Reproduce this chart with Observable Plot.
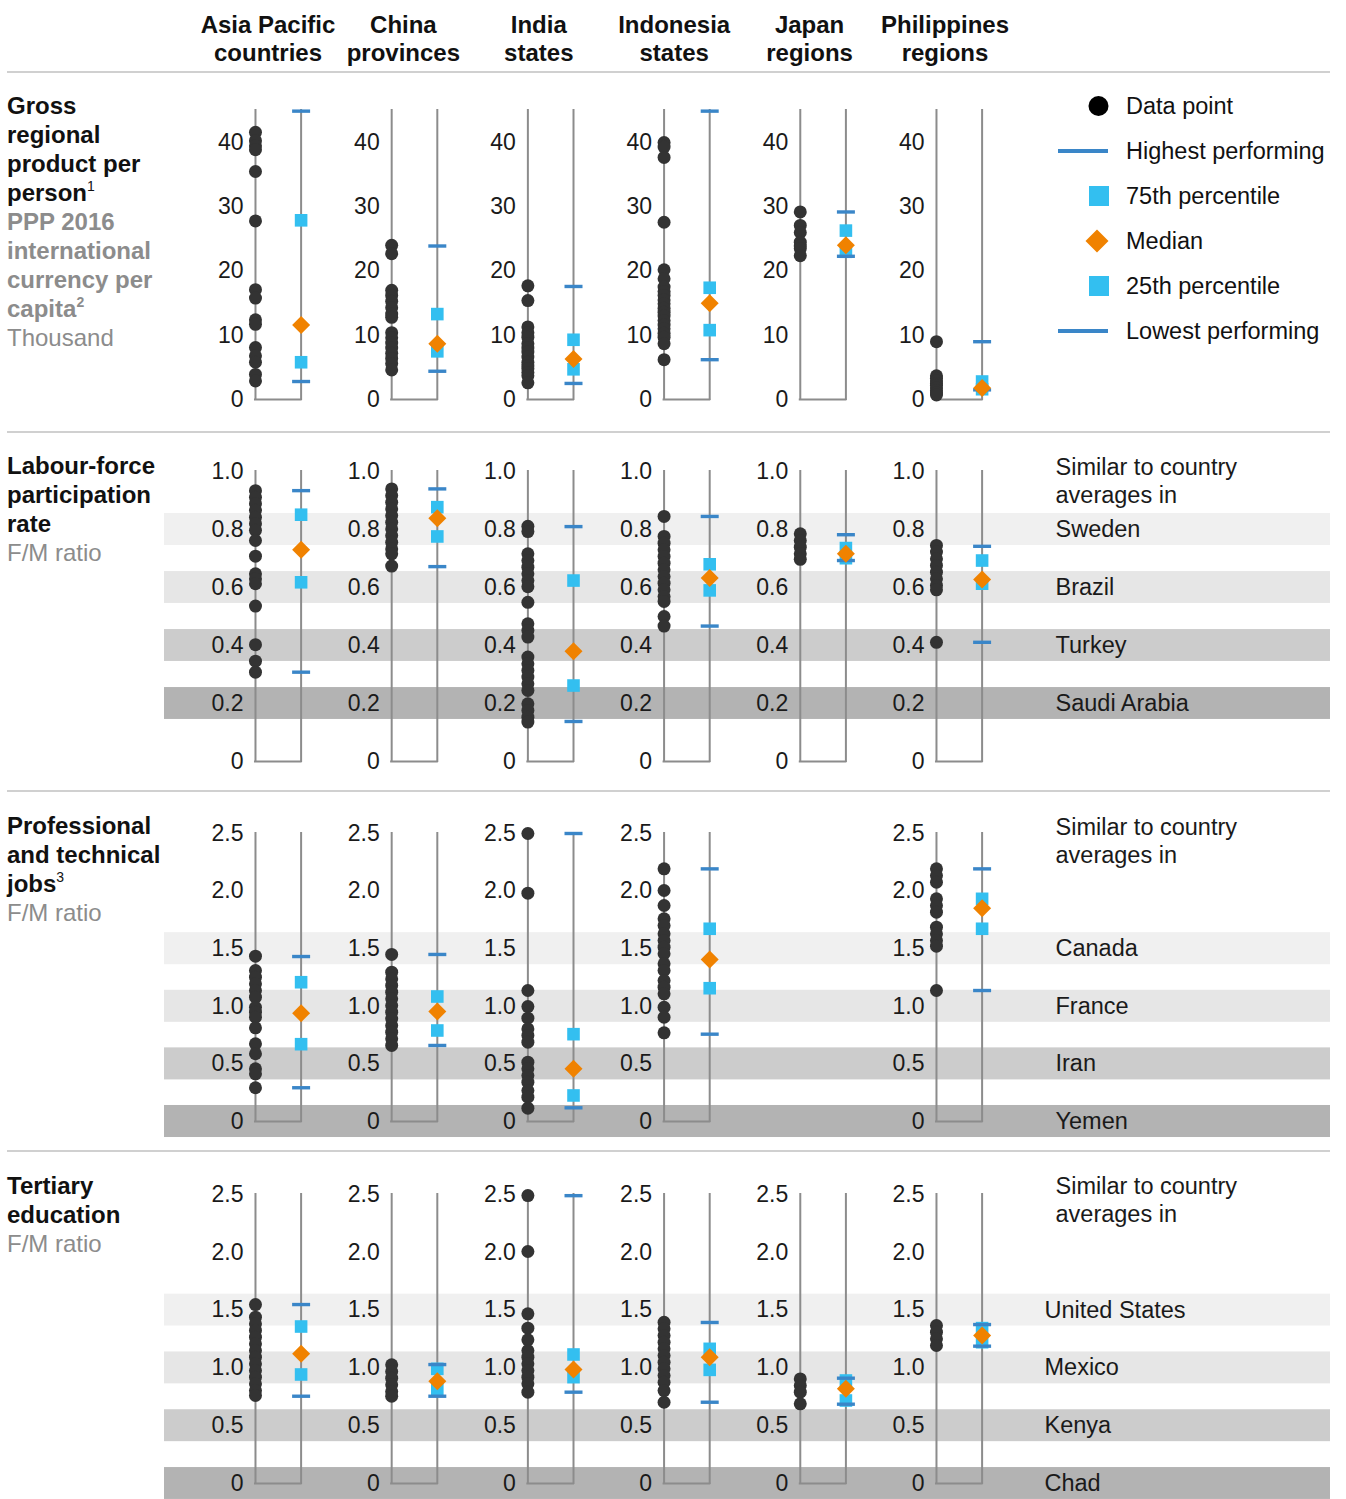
<!DOCTYPE html>
<html><head><meta charset="utf-8">
<script src="https://cdn.jsdelivr.net/npm/d3@7"></script>
<script src="https://cdn.jsdelivr.net/npm/@observablehq/plot@0.6"></script>
<style>
body{margin:0;background:#fff;font-family:"Liberation Sans",Arial,Helvetica,sans-serif;}
#page{position:relative;width:1346px;height:1499px;overflow:hidden;background:#fff;}
.hdr{position:absolute;top:11px;width:180px;margin-left:-90px;text-align:center;font-weight:bold;font-size:24px;line-height:28px;color:#111;white-space:pre;}
.sep{position:absolute;left:7px;width:1323px;height:2px;background:#d0d0d0;}
.rowlab{position:absolute;left:7px;font-size:24px;line-height:29px;color:#111;white-space:nowrap;}
.rowlab b{font-weight:bold;}
.gray{color:#8c8c8c;}
sup{font-size:14px;line-height:0;vertical-align:10px;}
.plot{position:absolute;left:164px;}
.leg{position:absolute;left:1040px;height:30px;width:300px;font-size:23.5px;color:#111;}
.leg span.t{position:absolute;left:86px;top:0;line-height:30px;}
.leg svg{position:absolute;left:0;top:0;}
</style>
</head><body>
<div id="page"></div>
<script>
// ---------- categories ----------
const regions = ["Asia Pacific\ncountries", "China\nprovinces", "India\nstates", "Indonesia\nstates", "Japan\nregions", "Philippines\nregions"];

// ---------- Row 1: Gross regional product per person (thousand) ----------
const gdpPoints = [
  [41.6, 40.3, 39.5, 38.9, 35.5, 27.8, 17.1, 15.8, 12.4, 11.7, 8.1, 6.8, 5.8, 3.9, 2.9],
  [24.0, 22.7, 17.0, 16.2, 15.3, 14.3, 13.3, 12.8, 10.4, 9.6, 8.8, 8.0, 7.2, 6.4, 5.6, 4.6],
  [17.7, 15.4, 11.3, 10.4, 9.7, 8.7, 8.0, 7.4, 6.6, 5.8, 5.2, 4.8, 4.2, 3.7, 2.6],
  [40.0, 39.3, 37.7, 27.6, 20.2, 18.8, 17.5, 16.8, 16.2, 15.5, 14.9, 14.2, 13.6, 13.0, 12.3, 11.6, 11.0, 10.3, 9.7, 8.7, 6.2],
  [29.2, 27.1, 26.0, 24.5, 23.9, 23.5, 22.4],
  [9.0, 3.7, 3.3, 2.9, 2.5, 2.2, 1.8, 1.4, 1.0, 0.7]
];
const gdpHigh   = [44.9, 23.9, 17.6, 44.9, 29.2, 9.0];
const gdpP75    = [27.9, 13.3, 9.3, 17.4, 26.3, 2.8];
const gdpMedian = [11.6, 8.7, 6.3, 15.0, 24.0, 1.8];
const gdpP25    = [5.8, 7.5, 4.7, 10.8, 23.0, 1.6];
const gdpLow    = [2.8, 4.4, 2.5, 6.2, 22.3, 1.5];
const gdpTicks  = [0, 10, 20, 30, 40];

// ---------- Row 2: Labour-force participation rate (F/M) ----------
const lfpPoints = [
  [0.934, 0.911, 0.889, 0.866, 0.842, 0.82, 0.797, 0.762, 0.708, 0.647, 0.63, 0.613, 0.536, 0.403, 0.346, 0.308],
  [0.94, 0.917, 0.894, 0.871, 0.848, 0.825, 0.802, 0.779, 0.756, 0.733, 0.716, 0.674],
  [0.811, 0.793, 0.716, 0.693, 0.67, 0.647, 0.624, 0.603, 0.549, 0.475, 0.452, 0.429, 0.36, 0.337, 0.314, 0.291, 0.268, 0.245, 0.199, 0.176, 0.153, 0.136],
  [0.845, 0.776, 0.753, 0.73, 0.707, 0.684, 0.661, 0.638, 0.615, 0.592, 0.569, 0.552, 0.5, 0.467],
  [0.785, 0.762, 0.739, 0.716, 0.697],
  [0.745, 0.722, 0.699, 0.676, 0.653, 0.63, 0.607, 0.592, 0.411]
];
const lfpHigh   = [0.934, 0.94, 0.81, 0.845, 0.782, 0.742];
const lfpP75    = [0.851, 0.877, 0.624, 0.68, 0.736, 0.693];
const lfpMedian = [0.73, 0.839, 0.38, 0.633, 0.716, 0.628];
const lfpP25    = [0.618, 0.776, 0.262, 0.59, 0.701, 0.613];
const lfpLow    = [0.308, 0.672, 0.138, 0.467, 0.693, 0.411];
const lfpTicks  = [0, 0.2, 0.4, 0.6, 0.8, 1.0];
const lfpCountries = ["Sweden", "Brazil", "Turkey", "Saudi Arabia"];
const lfpCountryValues = [0.8, 0.6, 0.4, 0.2];

// ---------- Row 3: Professional and technical jobs (F/M) ----------
const jobPoints = [
  [1.435, 1.311, 1.253, 1.195, 1.137, 1.079, 0.992, 0.949, 0.905, 0.813, 0.674, 0.588, 0.457, 0.414, 0.293],
  [1.45, 1.296, 1.238, 1.181, 1.123, 1.065, 1.007, 0.949, 0.891, 0.833, 0.775, 0.718, 0.66],
  [2.5, 1.982, 1.137, 0.998, 0.897, 0.804, 0.747, 0.689, 0.515, 0.457, 0.399, 0.341, 0.269, 0.211, 0.116],
  [2.193, 2.005, 1.875, 1.759, 1.701, 1.629, 1.571, 1.513, 1.456, 1.369, 1.311, 1.224, 1.166, 1.108, 0.992, 0.905, 0.77],
  [],
  [2.193, 2.135, 2.077, 1.933, 1.875, 1.817, 1.687, 1.629, 1.571, 1.522, 1.137]
];
const jobHigh   = [1.432, 1.45, 2.5, 2.193, null, 2.193];
const jobP75    = [1.209, 1.085, 0.758, 1.673, null, 1.933];
const jobMedian = [0.94, 0.955, 0.457, 1.406, null, 1.852];
const jobP25    = [0.671, 0.79, 0.226, 1.157, null, 1.673];
const jobLow    = [0.293, 0.66, 0.119, 0.758, null, 1.137];
const ratioTicks = [0, 0.5, 1.0, 1.5, 2.0, 2.5];
const jobCountries = ["Canada", "France", "Iran", "Yemen"];
const jobCountryValues = [1.5, 1.0, 0.5, 0];

// ---------- Row 4: Tertiary education (F/M) ----------
const eduPoints = [
  [1.548, 1.439, 1.381, 1.324, 1.266, 1.208, 1.15, 1.093, 1.035, 0.977, 0.92, 0.862, 0.804, 0.761],
  [1.027, 0.969, 0.911, 0.854, 0.796, 0.755],
  [2.491, 2.007, 1.468, 1.344, 1.243, 1.15, 1.093, 1.035, 0.977, 0.92, 0.862, 0.79],
  [1.395, 1.338, 1.28, 1.222, 1.165, 1.107, 1.049, 0.992, 0.934, 0.876, 0.804, 0.703],
  [0.905, 0.848, 0.79, 0.689],
  [1.367, 1.309, 1.252, 1.194]
];
const eduHigh   = [1.548, 1.029, 2.49, 1.393, 0.911, 1.375];
const eduP75    = [1.358, 0.992, 1.116, 1.165, 0.891, 1.344];
const eduMedian = [1.122, 0.885, 0.986, 1.093, 0.819, 1.28];
const eduP25    = [0.943, 0.819, 0.92, 0.983, 0.718, 1.222];
const eduLow    = [0.755, 0.755, 0.79, 0.703, 0.686, 1.188];
const eduCountries = ["United States", "Mexico", "Kenya", "Chad"];
const eduCountryValues = [1.5, 1.0, 0.5, 0];

const legendLabels = ["Data point", "Highest performing", "75th percentile", "Median", "25th percentile", "Lowest performing"];
const noteText = "Similar to country\naverages in";

// ---------- styles ----------
const C = {dot: "#333333", axis: "#8c8c8c", tick: "#3a86c8", quart: "#33bff0", median: "#f08200", text: "#1a1a1a"};
const bandColors = ["#f0f0f0", "#e6e6e6", "#cccccc", "#b3b3b3"];
const OFF = 0.335;              // offset of the summary line from the data-point line (column units)
const XDOM = [-0.668, 7.893];   // horizontal extent in column units
const FONT = "Liberation Sans, Arial, Helvetica, sans-serif";

const barSym = {draw(c) { c.rect(-9, -1.7, 18, 3.4); }};
const sqSym = {draw(c) { c.rect(-6.3, -6.3, 12.6, 12.6); }};
const diaSym = {draw(c) { c.moveTo(0, -9); c.lineTo(9, 0); c.lineTo(0, 9); c.lineTo(-9, 0); c.closePath(); }};

const fmtInt = d => String(d);
const fmtDec = d => d === 0 ? "0" : d.toFixed(1);

function makeRow(cfg) {
  const panels = d3.range(regions.length).filter(i => cfg.high[i] != null);
  const pts = cfg.points.flatMap((arr, i) => arr.map(v => ({col: i, v})));
  const stat = arr => panels.map(i => ({col: i, v: arr[i]}));
  const tickData = panels.flatMap(i => cfg.ticks.map(t => ({col: i, v: t})));
  const bands = cfg.countries ? cfg.countries.map((n, i) => ({name: n, v: cfg.countryValues[i], color: bandColors[i]})) : [];
  const marks = [];
  if (bands.length) {
    marks.push(Plot.rect(bands, {y1: d => d.v - cfg.bandHalf, y2: d => d.v + cfg.bandHalf, fill: d => d.color}));
  }
  marks.push(
    Plot.ruleX(panels, {x: d => d, y1: 0, y2: cfg.top, stroke: C.axis, strokeWidth: 2, strokeLinecap: "square"}),
    Plot.ruleX(panels, {x: d => d + OFF, y1: 0, y2: cfg.top, stroke: C.axis, strokeWidth: 2, strokeLinecap: "square"}),
    Plot.ruleY(panels, {y: 0, x1: d => d, x2: d => d + OFF, stroke: C.axis, strokeWidth: 2, strokeLinecap: "square"}),
    Plot.text(tickData, {x: "col", y: "v", text: d => cfg.fmt(d.v), textAnchor: "end", dx: -12, fontSize: 23, fill: C.text}),
    Plot.dot(pts, {x: "col", y: "v", r: 6.5, fill: C.dot}),
    Plot.dot([...stat(cfg.p75), ...stat(cfg.p25)], {x: d => d.col + OFF, y: "v", symbol: sqSym, fill: C.quart}),
    Plot.dot([...stat(cfg.high), ...stat(cfg.low)], {x: d => d.col + OFF, y: "v", symbol: barSym, fill: C.tick}),
    Plot.dot(stat(cfg.median), {x: d => d.col + OFF, y: "v", symbol: diaSym, fill: C.median})
  );
  if (bands.length) {
    marks.push(
      Plot.text(bands, {x: cfg.labelX, y: "v", text: "name", textAnchor: "start", fontSize: 23.5, fill: C.text}),
      Plot.text([noteText], {x: cfg.noteX, y: cfg.top, text: d => d, textAnchor: "start", lineAnchor: "top", lineHeight: 1.2, dy: cfg.noteDy, fontSize: 23.5, fill: C.text})
    );
  }
  return Plot.plot({
    width: 1166, height: cfg.height,
    marginLeft: 0, marginRight: 0, marginTop: cfg.marginTop, marginBottom: cfg.marginBottom,
    x: {domain: XDOM, axis: null},
    y: {domain: [0, cfg.top], axis: null},
    color: {type: "identity"},
    style: {fontFamily: FONT, fontSize: "23px", background: "transparent", overflow: "visible"},
    marks
  });
}

const page = document.getElementById("page");

// column headers
regions.forEach((r, i) => {
  const d = document.createElement("div");
  d.className = "hdr"; d.textContent = r;
  d.style.left = (268 + i * 135.4) + "px";
  page.appendChild(d);
});
// separators
[71, 431, 790, 1150].forEach(y => {
  const d = document.createElement("div"); d.className = "sep"; d.style.top = y + "px"; page.appendChild(d);
});
// row labels
const rowLabels = [
  [91, '<b>Gross<br>regional<br>product per<br>person</b><sup>1</sup><br><b class="gray">PPP 2016<br>international<br>currency per<br>capita<sup>2</sup></b><br><span class="gray">Thousand</span>'],
  [451, '<b>Labour-force<br>participation<br>rate</b><br><span class="gray">F/M ratio</span>'],
  [811, '<b>Professional<br>and technical<br>jobs</b><sup>3</sup><br><span class="gray">F/M ratio</span>'],
  [1171, '<b>Tertiary<br>education</b><br><span class="gray">F/M ratio</span>']
];
rowLabels.forEach(([top, html]) => {
  const d = document.createElement("div"); d.className = "rowlab"; d.style.top = top + "px"; d.innerHTML = html; page.appendChild(d);
});

function place(svg, top) {
  const w = document.createElement("div"); w.className = "plot"; w.style.top = top + "px";
  w.appendChild(svg); page.appendChild(w);
}

place(makeRow({points: gdpPoints, high: gdpHigh, p75: gdpP75, median: gdpMedian, p25: gdpP25, low: gdpLow,
  ticks: gdpTicks, fmt: fmtInt, top: 45, height: 340, marginTop: 25, marginBottom: 26}), 85);
place(makeRow({points: lfpPoints, high: lfpHigh, p75: lfpP75, median: lfpMedian, p25: lfpP25, low: lfpLow,
  ticks: lfpTicks, fmt: fmtDec, top: 1.0, height: 340, marginTop: 26, marginBottom: 24,
  countries: lfpCountries, countryValues: lfpCountryValues, bandHalf: 0.055, labelX: 5.874, noteX: 5.874, noteDy: -17}), 445);
place(makeRow({points: jobPoints, high: jobHigh, p75: jobP75, median: jobMedian, p25: jobP25, low: jobLow,
  ticks: ratioTicks, fmt: fmtDec, top: 2.5, height: 345, marginTop: 28, marginBottom: 29,
  countries: jobCountries, countryValues: jobCountryValues, bandHalf: 0.139, labelX: 5.874, noteX: 5.874, noteDy: -19}), 805);
place(makeRow({points: eduPoints, high: eduHigh, p75: eduP75, median: eduMedian, p25: eduP25, low: eduLow,
  ticks: ratioTicks, fmt: fmtDec, top: 2.5, height: 334, marginTop: 29, marginBottom: 16,
  countries: eduCountries, countryValues: eduCountryValues, bandHalf: 0.138, labelX: 5.793, noteX: 5.874, noteDy: -21}), 1165);

// legend
const legendSymbols = [
  '<circle cx="58.5" cy="15" r="10" fill="#000"/>',
  '<rect x="18" y="13" width="50" height="4" fill="' + C.tick + '"/>',
  '<rect x="49" y="5" width="20" height="20" fill="' + C.quart + '"/>',
  '<path d="M57,3.5L68.5,15L57,26.5L45.5,15Z" fill="' + C.median + '"/>',
  '<rect x="49" y="5" width="20" height="20" fill="' + C.quart + '"/>',
  '<rect x="18" y="13" width="50" height="4" fill="' + C.tick + '"/>'
];
legendLabels.forEach((lab, i) => {
  const d = document.createElement("div"); d.className = "leg";
  d.style.top = (106 + i * 45 - 15) + "px";
  d.innerHTML = '<svg width="80" height="30">' + legendSymbols[i] + '</svg><span class="t">' + lab + '</span>';
  page.appendChild(d);
});
</script>
</body></html>
